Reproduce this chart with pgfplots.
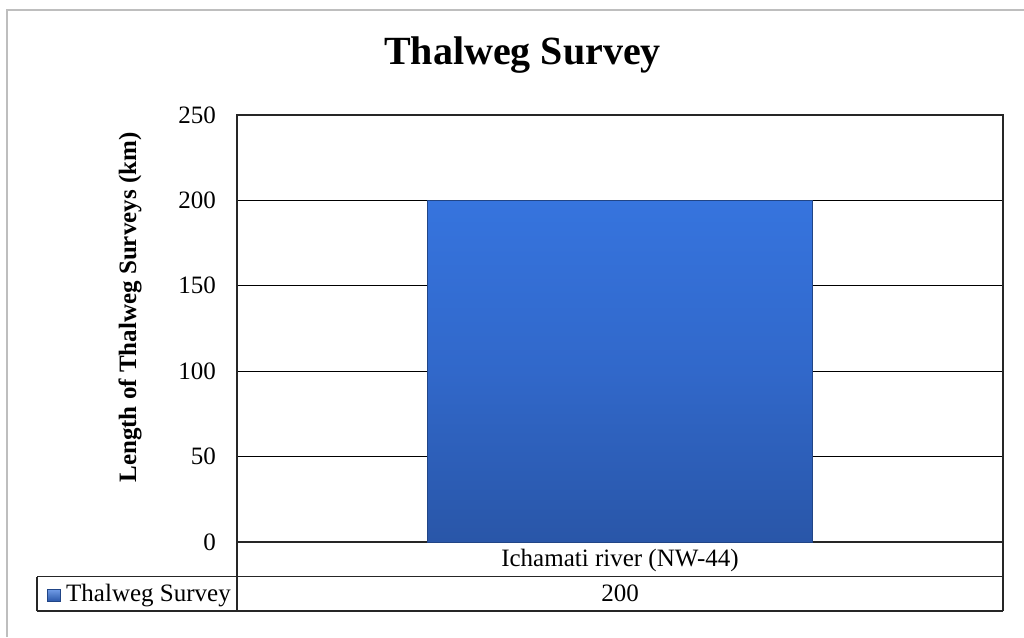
\documentclass[border=0pt]{standalone}
\usepackage{pgfplots}
\pgfplotsset{compat=1.18}
\usepackage{fontspec}
\setmainfont{Liberation Serif}

\definecolor{barTop}{RGB}{54,116,222}
\definecolor{barMid}{RGB}{49,104,202}
\definecolor{barBot}{RGB}{41,86,168}
\definecolor{frameGray}{RGB}{190,190,190}

\begin{document}
\begin{tikzpicture}
% page size = reference size, 1px = 1pt
\path[use as bounding box] (0pt,0pt) rectangle (1024pt,637pt);
\draw[frameGray, line width=2.5pt] (7pt,0pt) -- (7pt,627pt) -- (1024pt,627pt);

\begin{axis}[
  at={(237pt,95pt)}, anchor=south west,
  scale only axis, width=766pt, height=427pt,
  xmin=-0.5, xmax=0.5, ymin=0, ymax=250,
  xtick=\empty,
  ytick={0,50,100,150,200,250},
  ymajorgrids, grid style={black, line width=1pt},
  major tick length=0pt,
  axis line style={black!85, line width=1.4pt},
  /pgf/number format/assume math mode=true,
  tick label style={font=\fontsize{25}{30}\selectfont},
  yticklabel style={inner sep=0pt, xshift=-21pt},
]
\addplot[ybar, bar width=385pt, draw=barBot!80!black, line width=0.6pt,
  top color=barTop, bottom color=barBot, middle color=barMid]
  coordinates {(0,200)};
\end{axis}

\begin{scope}[x=1pt, y=1pt]
% title and y label
\node[anchor=base, font=\fontsize{40}{44}\selectfont\bfseries] at (522.5,572) {Thalweg Survey};
\node[rotate=90, font=\fontsize{25}{30}\selectfont\bfseries] at (130,329.5) {Length of Thalweg Surveys (km)};

% data table below the plot area
\draw[black!85, line width=1.4pt] (237,95) -- (237,26) (1003,95) -- (1003,26);
\draw[black!85, line width=1.4pt] (37,60.5) -- (1003,60.5) (37,26) -- (1003,26) (37,26) -- (37,60.5);
\node[anchor=base, font=\fontsize{25}{30}\selectfont] at (620,70.3) {Ichamati river (NW-44)};
\node[anchor=base, font=\fontsize{25}{30}\selectfont] at (620,36) {200};
\shade[top color=barTop!70!white, bottom color=barBot, draw=barBot!80!black, line width=0.4pt] (47,35.5) rectangle (60,48);
\node[anchor=base west, inner sep=0pt, font=\fontsize{25}{30}\selectfont] at (66,35.3) {Thalweg Survey};
\end{scope}
\end{tikzpicture}
\end{document}
